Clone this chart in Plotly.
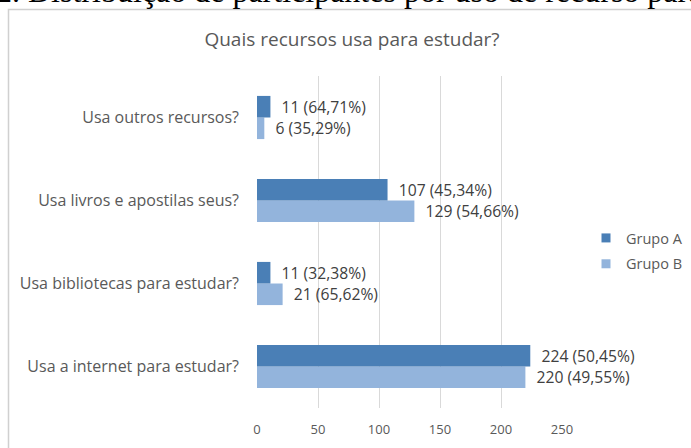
import plotly.graph_objects as go

categories = ["Usa a internet para estudar?", "Usa bibliotecas para estudar?",
              "Usa livros e apostilas seus?", "Usa outros recursos?"]
grupo_a = [224, 11, 107, 11]
grupo_b = [220, 21, 129, 6]
pct_a = ["50,45%", "32,38%", "45,34%", "64,71%"]
pct_b = ["49,55%", "65,62%", "54,66%", "35,29%"]
x_ticks = [0, 50, 100, 150, 200, 250]

color_a = "#4a7fb6"
color_b = "#93b4dc"
txt = "#595959"
lbl = "#404040"
font_fam = "Open Sans, Liberation Sans, sans-serif"

fig = go.Figure()
fig.add_trace(go.Bar(
    y=categories, x=grupo_b, orientation="h", name="Grupo B", showlegend=False,
    marker=dict(color=color_b, line=dict(width=0)),
    text=[f"  {v} ({p})" for v, p in zip(grupo_b, pct_b)],
    textposition="outside", cliponaxis=False,
    textfont=dict(size=16, color=lbl, family=font_fam),
))
fig.add_trace(go.Bar(
    y=categories, x=grupo_a, orientation="h", name="Grupo A", showlegend=False,
    marker=dict(color=color_a, line=dict(width=0)),
    text=[f"  {v} ({p})" for v, p in zip(grupo_a, pct_a)],
    textposition="outside", cliponaxis=False,
    textfont=dict(size=16, color=lbl, family=font_fam),
))
# legend entries (small square symbols like the reference)
for name, col, grp in [("Grupo A", color_a, "a"), ("Grupo B", color_b, "b")]:
    fig.add_trace(go.Scatter(x=[None], y=[None], mode="markers", name=name,
                             legendgroup=grp,
                             marker=dict(symbol="square", size=9, color=col)))

L, R, T, B = 257, 129, 76, 40
W, H = 691, 448
pw, ph = W - L - R, H - T - B

def px_x(v):
    return (v - L) / pw

def px_y(v):
    return (H - B - v) / ph

fig.update_layout(
    width=W, height=H,
    margin=dict(l=L, r=R, t=T, b=B, autoexpand=False),
    paper_bgcolor="white", plot_bgcolor="white",
    barmode="group", bargap=0.48, bargroupgap=0,
    font=dict(family=font_fam, color=txt, size=13),
    title=dict(text="Quais recursos usa para estudar?", x=352 / W, xanchor="center",
               y=1 - 39 / H, yanchor="middle",
               font=dict(size=19, color=txt, family=font_fam)),
    xaxis=dict(range=[0, 250], tickvals=x_ticks, showgrid=True, gridcolor="#d9d9d9",
               gridwidth=1, zeroline=False, showline=False,
               tickfont=dict(size=13, color=txt), ticks="", ticklabelstandoff=12),
    yaxis=dict(showgrid=False, zeroline=False, showline=False, ticks="",
               tickfont=dict(size=16, color=txt), ticklabelstandoff=17,
               categoryorder="array", categoryarray=categories),
    legend=dict(x=px_x(586), y=px_y(222), xanchor="left", yanchor="top",
                font=dict(size=14.5, color=txt),
                itemwidth=30, tracegroupgap=4, bgcolor="rgba(0,0,0,0)"),
    showlegend=True,
)

# chart border
fig.add_shape(type="rect", xref="paper", yref="paper",
              x0=px_x(8.5), x1=px_x(720), y0=px_y(470), y1=px_y(9.5),
              line=dict(color="#d0d0d0", width=1.5), fillcolor="rgba(0,0,0,0)", layer="below")

# cut-off caption
fig.add_annotation(text="2. Distribuição de participantes por uso de recurso para",
                   xref="paper", yref="paper", x=px_x(-6), y=px_y(11),
                   xanchor="left", yanchor="bottom", showarrow=False,
                   font=dict(family="Liberation Serif, Times New Roman, serif", size=32, color="black"))

fig.write_html("out.html", config={"displayModeBar": False},
               post_script="document.body.style.margin='0';document.body.style.overflow='hidden';")
